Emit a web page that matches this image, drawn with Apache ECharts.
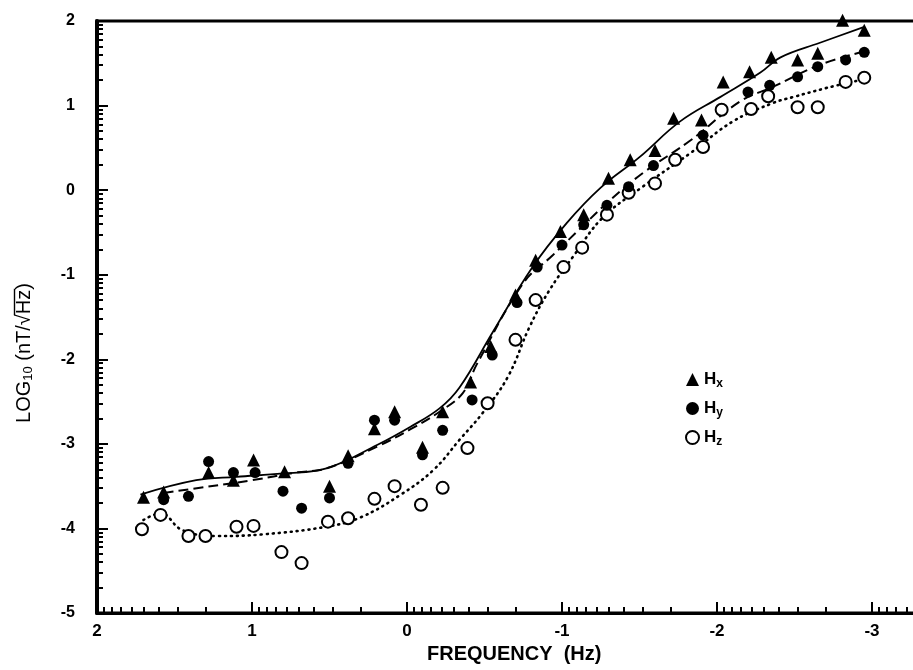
<!DOCTYPE html>
<html>
<head>
<meta charset="utf-8">
<script src="https://cdn.jsdelivr.net/npm/echarts@6/dist/echarts.min.js"></script>
<style>
  html, body { margin: 0; padding: 0; background: #fff; }
  #chart { width: 913px; height: 670px; }
</style>
</head>
<body>
<div id="chart"></div>
<script>
  // log10 frequency (x) and log10 amplitude (y)
  const hxX = [1.70, 1.57, 1.28, 1.12, 0.99, 0.79, 0.50, 0.38, 0.21, 0.08, -0.10, -0.23, -0.41, -0.54, -0.70, -0.83, -0.99, -1.14, -1.30, -1.44, -1.60, -1.72, -1.90, -2.04, -2.21, -2.35, -2.52, -2.65, -2.81, -2.95]
  const hxY = [-3.63, -3.57, -3.34, -3.43, -3.19, -3.33, -3.50, -3.14, -2.82, -2.62, -3.04, -2.62, -2.27, -1.85, -1.24, -0.83, -0.49, -0.29, 0.14, 0.36, 0.47, 0.85, 0.83, 1.28, 1.40, 1.57, 1.54, 1.62, 2.01, 1.89]

  const hyX = [1.57, 1.41, 1.28, 1.12, 0.98, 0.80, 0.68, 0.50, 0.38, 0.21, 0.08, -0.10, -0.23, -0.42, -0.55, -0.71, -0.84, -1.00, -1.14, -1.29, -1.43, -1.59, -1.91, -2.20, -2.34, -2.52, -2.65, -2.83, -2.95]
  const hyY = [-3.66, -3.62, -3.21, -3.34, -3.34, -3.56, -3.76, -3.64, -3.23, -2.72, -2.72, -3.13, -2.84, -2.48, -1.95, -1.33, -0.91, -0.65, -0.41, -0.18, 0.04, 0.29, 0.65, 1.16, 1.24, 1.34, 1.46, 1.54, 1.63]

  const hzX = [1.71, 1.59, 1.41, 1.30, 1.10, 0.99, 0.81, 0.68, 0.51, 0.38, 0.21, 0.08, -0.09, -0.23, -0.39, -0.52, -0.70, -0.83, -1.01, -1.13, -1.29, -1.43, -1.60, -1.73, -1.91, -2.03, -2.22, -2.33, -2.52, -2.65, -2.83, -2.95]
  const hzY = [-4.01, -3.84, -4.09, -4.09, -3.98, -3.97, -4.28, -4.41, -3.92, -3.88, -3.65, -3.50, -3.72, -3.52, -3.05, -2.52, -1.77, -1.30, -0.91, -0.68, -0.29, -0.03, 0.08, 0.36, 0.51, 0.95, 0.96, 1.11, 0.98, 0.98, 1.28, 1.33]

  // fitted curves
  const hxFitX = [1.72, 1.36, 1.10, 0.80, 0.52, 0.19, -0.02, -0.21, -0.34, -0.55, -0.81, -1.03, -1.25, -1.50, -1.76, -2.02, -2.28, -2.41, -2.66, -2.95]
  const hxFitY = [-3.60, -3.43, -3.39, -3.35, -3.29, -3.01, -2.80, -2.58, -2.33, -1.69, -0.91, -0.39, 0.03, 0.39, 0.81, 1.10, 1.39, 1.57, 1.74, 1.93]

  const hyFitX = [1.57, 1.30, 1.00, 0.72, 0.52, 0.19, -0.02, -0.21, -0.36, -0.45, -0.75, -0.94, -1.12, -1.31, -1.52, -1.83, -2.15, -2.36, -2.66, -2.95]
  const hyFitY = [-3.58, -3.51, -3.43, -3.34, -3.29, -3.03, -2.83, -2.62, -2.40, -2.06, -1.10, -0.77, -0.45, -0.12, 0.20, 0.59, 1.05, 1.22, 1.48, 1.64]

  const hzFitX = [1.70, 1.59, 1.45, 1.23, 0.93, 0.52, 0.30, 0.04, -0.17, -0.34, -0.49, -0.65, -0.79, -0.92, -1.07, -1.26, -1.52, -1.83, -2.10, -2.36, -2.49, -2.71, -2.92]
  const hzFitY = [-3.90, -3.82, -4.02, -4.09, -4.07, -3.98, -3.87, -3.60, -3.31, -2.95, -2.63, -2.21, -1.62, -1.18, -0.79, -0.33, 0.04, 0.44, 0.81, 1.03, 1.10, 1.21, 1.30]

  const xDecades = [-4, -3, -2, -1, 0, 1]
  const yDecades = [-5, -4, -3, -2, -1, 0, 1]

  const font = 'Liberation Sans, Arial, sans-serif'

  function zip(xs, ys) {
    return xs.map((x, i) => [x, ys[i]])
  }

  // log-spaced minor ticks inside each decade
  function minorTicks(decades) {
    const out = []
    decades.forEach((d) => {
      for (let k = 2; k <= 9; k++) {
        out.push(+(d + Math.log10(k)).toFixed(4))
      }
    })
    return out
  }

  // text widths, used to put the bar over "Hz" in the y title
  const ctx = document.createElement('canvas').getContext('2d')
  function textWidth(str, size) {
    ctx.font = size + 'px ' + font
    return ctx.measureText(str).width
  }
  const yTitleSize = 20
  const ySubSize = 13
  const yParts = ['LOG', '10', ' (nT/\u221A', 'Hz', ')']
  const yWidths = yParts.map((p, i) => textWidth(p, i === 1 ? ySubSize : yTitleSize))
  const yTotal = yWidths.reduce((a, b) => a + b, 0)
  const barStart = -yTotal / 2 + yWidths[0] + yWidths[1] + yWidths[2] - 1
  const barEnd = barStart + yWidths[3] + 2

  const chart = echarts.init(document.getElementById('chart'))

  const axisBase = {
    type: 'value',
    splitLine: { show: false },
    axisLine: { show: true, onZero: false, lineStyle: { color: '#000', width: 3 } },
    axisTick: { inside: true, length: 11, lineStyle: { color: '#000', width: 2 } },
    axisLabel: { color: '#000', fontFamily: font, fontWeight: 'bold', fontSize: 16 }
  }

  const option = {
    animation: false,
    backgroundColor: '#fff',
    grid: {
      left: 97,
      top: 21,
      width: 930,
      height: 592,
      outerBoundsMode: 'none',
      show: true,
      borderColor: '#000',
      borderWidth: 3
    },
    xAxis: [
      Object.assign({}, axisBase, {
        min: -4,
        max: 2,
        interval: 1,
        inverse: true,
        position: 'bottom',
        axisLabel: Object.assign({}, axisBase.axisLabel, { margin: 10, fontSize: 17 })
      }),
      {
        type: 'value',
        min: -4,
        max: 2,
        inverse: true,
        position: 'bottom',
        splitLine: { show: false },
        axisLine: { show: false, onZero: false },
        axisLabel: { show: false },
        axisTick: {
          inside: true,
          length: 6,
          customValues: minorTicks(xDecades),
          lineStyle: { color: '#000', width: 2 }
        }
      }
    ],
    yAxis: [
      Object.assign({}, axisBase, {
        min: -5,
        max: 2,
        interval: 1,
        position: 'left',
        axisLine: { show: true, onZero: false, lineStyle: { color: '#000', width: 4 } },
        axisLabel: Object.assign({}, axisBase.axisLabel, { margin: 22 })
      }),
      {
        type: 'value',
        min: -5,
        max: 2,
        position: 'left',
        splitLine: { show: false },
        axisLine: { show: false, onZero: false },
        axisLabel: { show: false },
        axisTick: {
          inside: true,
          length: 6,
          customValues: minorTicks(yDecades),
          lineStyle: { color: '#000', width: 2 }
        }
      }
    ],
    legend: {
      data: ['Hx', 'Hy', 'Hz'],
      orient: 'vertical',
      left: 680,
      top: 366,
      itemWidth: 13,
      itemHeight: 13,
      itemGap: 10,
      formatter: (name) => '{m|H}{s|' + name.charAt(1) + '}',
      textStyle: {
        color: '#000',
        rich: {
          m: { fontFamily: font, fontWeight: 'bold', fontSize: 17, color: '#000' },
          s: { fontFamily: font, fontWeight: 'bold', fontSize: 12, color: '#000', padding: [9, 0, 0, 0] }
        }
      }
    },
    graphic: [
      {
        type: 'text',
        left: 427,
        top: 644,
        style: {
          text: 'FREQUENCY  (Hz)',
          fill: '#000',
          font: 'bold 20px ' + font
        }
      },
      {
        type: 'group',
        x: 24,
        y: 353,
        rotation: Math.PI / 2,
        children: [
          {
            type: 'text',
            x: 0,
            y: 0,
            style: {
              text: '{a|LOG}{s|10}{a| (nT/\u221A}{a|Hz}{a|)}',
              align: 'center',
              verticalAlign: 'middle',
              fill: '#000',
              rich: {
                a: { fontFamily: font, fontSize: yTitleSize, fill: '#000' },
                s: { fontFamily: font, fontSize: ySubSize, fill: '#000', padding: [9, 0, 0, 0] }
              }
            }
          },
          {
            type: 'line',
            shape: { x1: barStart, y1: -9.5, x2: barEnd, y2: -9.5 },
            style: { stroke: '#000', lineWidth: 1.4 }
          }
        ]
      }
    ],
    series: [
      {
        name: 'hxFit',
        type: 'line',
        data: zip(hxFitX, hxFitY),
        smooth: 0.4,
        showSymbol: false,
        symbol: 'none',
        lineStyle: { color: '#000', width: 1.8 },
        z: 2
      },
      {
        name: 'hyFit',
        type: 'line',
        data: zip(hyFitX, hyFitY),
        smooth: 0.4,
        showSymbol: false,
        symbol: 'none',
        lineStyle: { color: '#000', width: 2, type: [10, 5] },
        z: 2
      },
      {
        name: 'hzFit',
        type: 'line',
        data: zip(hzFitX, hzFitY),
        smooth: 0.4,
        showSymbol: false,
        symbol: 'none',
        lineStyle: { color: '#000', width: 2.6, type: [1, 5], cap: 'round' },
        z: 2
      },
      {
        name: 'Hx',
        type: 'scatter',
        data: zip(hxX, hxY),
        symbol: 'triangle',
        symbolSize: 13,
        clip: false,
        itemStyle: { color: '#000', opacity: 1 },
        z: 4
      },
      {
        name: 'Hy',
        type: 'scatter',
        data: zip(hyX, hyY),
        symbol: 'circle',
        symbolSize: 11,
        itemStyle: { color: '#000', opacity: 1 },
        z: 4
      },
      {
        name: 'Hz',
        type: 'scatter',
        data: zip(hzX, hzY),
        symbol: 'circle',
        symbolSize: 12,
        itemStyle: { color: '#fff', borderColor: '#000', borderWidth: 2, opacity: 1 },
        z: 3
      }
    ]
  }

  chart.setOption(option)
</script>
</body>
</html>
